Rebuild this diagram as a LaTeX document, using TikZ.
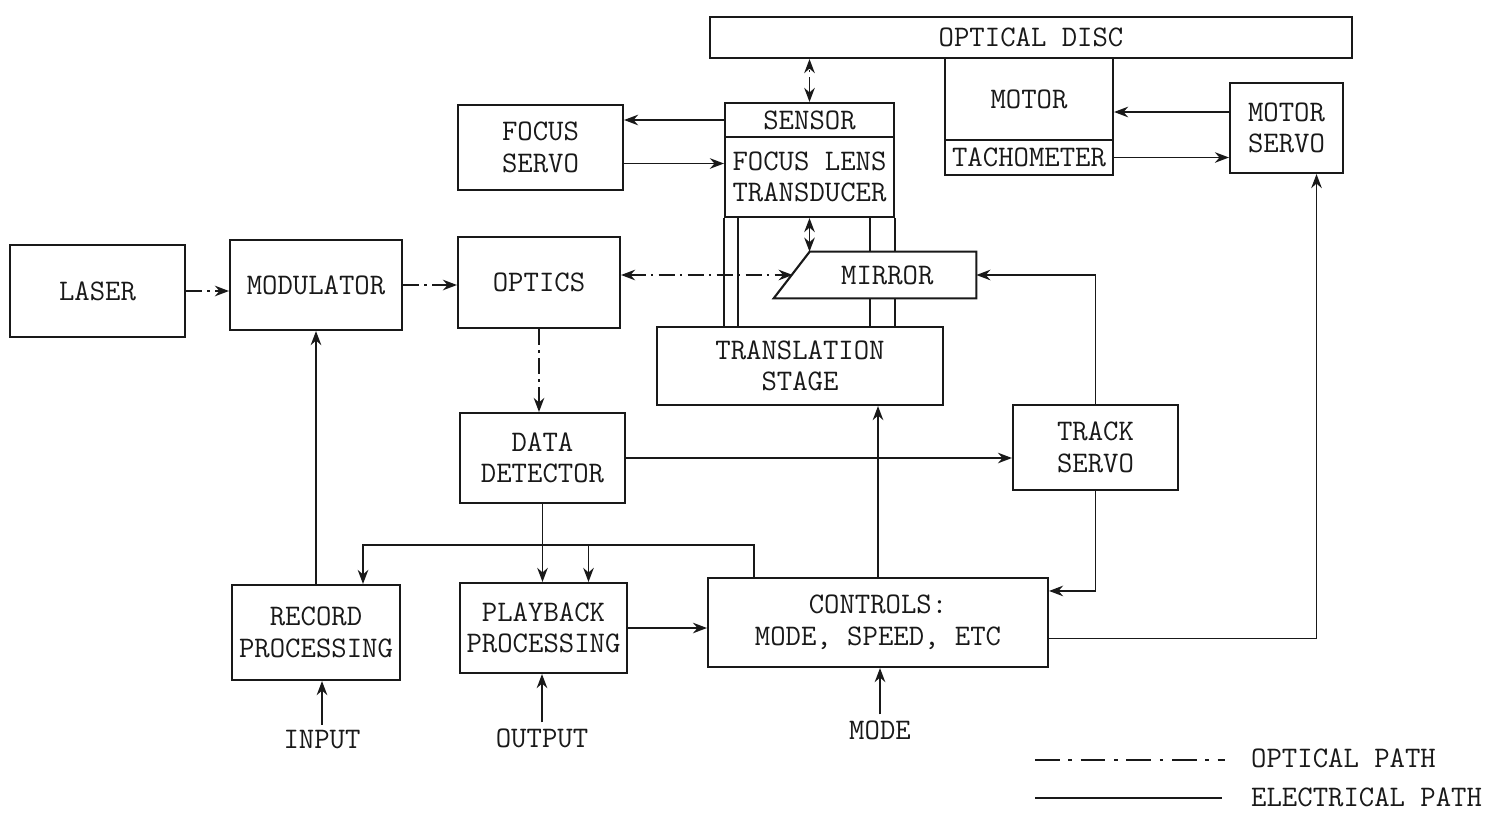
\documentclass[tikz,border=0pt]{standalone}
\usepackage{fontspec}
\usetikzlibrary{calc}
\usetikzlibrary{arrows.meta}
\definecolor{ink}{RGB}{25,25,25}

\begin{document}
\begin{tikzpicture}[x=0.02cm,y=-0.02cm,
    >={Stealth[length=8pt,width=6pt]},
    box/.style={draw=ink,line width=1.2pt,align=center,inner sep=1pt,text=ink,
        font=\ttfamily\fontsize{17}{18}\selectfont},
    lbl/.style={text=ink,font=\ttfamily\fontsize{17}{18}\selectfont},
    elec/.style={draw=ink,line width=1.1pt,->},
    optic/.style={elec,dash pattern=on 9pt off 3pt on 1.5pt off 3pt}]
    \fill[white] (0,0) rectangle (1493,815);
    % disc, motor and tachometer
    \node[box,minimum width=12.84cm,minimum height=0.82cm] (disc) at (1031,37.5) {OPTICAL DISC};
    \node[box,minimum width=3.36cm,minimum height=1.64cm] (motor) at (1029,99) {MOTOR};
    \node[box,minimum width=3.36cm,minimum height=0.7cm] (tacho) at (1029,157.5) {TACHOMETER};
    \node[box,minimum width=2.26cm,minimum height=1.8cm] (mservo) at (1286.5,128) {MOTOR\\SERVO};
    % focus servo and the lens head
    \node[box,minimum width=3.3cm,minimum height=1.7cm] (fservo) at (540.5,147.5) {FOCUS\\SERVO};
    \node[box,minimum width=3.38cm,minimum height=0.68cm] (sensor) at (809.5,120) {SENSOR};
    \node[box,minimum width=3.38cm,minimum height=1.6cm] (lens) at (809.5,177) {FOCUS LENS\\TRANSDUCER};
    % middle row
    \node[box,minimum width=3.5cm,minimum height=1.84cm] (laser) at (97.5,291) {LASER};
    \node[box,minimum width=3.44cm,minimum height=1.8cm] (modulator) at (316,285) {MODULATOR};
    \node[box,minimum width=3.24cm,minimum height=1.82cm] (optics) at (539,282.5) {OPTICS};
    \node[lbl,minimum width=4.04cm,minimum height=0.92cm,inner sep=0pt] (mirror) at (875,275) {\hspace{14pt}MIRROR};
    % the mirror is slanted on its left side
    \draw[ink,line width=1.2pt] ($(mirror.north west)+(36,0)$) -- (mirror.north east)
        -- (mirror.south east) -- (mirror.south west) -- cycle;
    \node[box,minimum width=5.72cm,minimum height=1.56cm] (stage) at (800,366) {TRANSLATION\\STAGE};
    % rails between head and stage
    \foreach \dx in {0,14}
        \draw[ink,line width=0.9pt] ($(lens.south west)+(\dx,0)$) -- ($(lens.south west |- stage.north)+(\dx,0)$);
    \foreach \dx in {0,-25} {
        \draw[ink,line width=0.9pt] ($(lens.south east)+(\dx,0)$) -- ($(lens.south east |- mirror.north)+(\dx,0)$);
        \draw[ink,line width=0.9pt] ($(lens.east |- mirror.south)+(\dx,0)$) -- ($(lens.east |- stage.north)+(\dx,0)$);
    }
    % lower rows
    \node[box,minimum width=3.3cm,minimum height=1.8cm] (detector) at (542.5,458) {DATA\\DETECTOR};
    \node[box,minimum width=3.3cm,minimum height=1.7cm] (tservo) at (1095.5,447.5) {TRACK\\SERVO};
    \node[box,minimum width=3.36cm,minimum height=1.9cm] (record) at (316,632.5) {RECORD\\PROCESSING};
    \node[box,minimum width=3.34cm,minimum height=1.8cm] (playback) at (543.5,628) {PLAYBACK\\PROCESSING};
    \node[box,minimum width=6.8cm,minimum height=1.78cm] (controls) at (878,622.5) {CONTROLS:\\MODE, SPEED, ETC};
    \node[lbl] (input) at (322,740) {INPUT};
    \node[lbl] (output) at (542,738) {OUTPUT};
    \node[lbl] (modein) at (880,730) {MODE};

    % optical paths
    \coordinate (mirin) at ($(mirror.west)+(19,0)$);
    \draw[optic] (laser.east) -- (laser.east -| modulator.west);
    \draw[optic] (modulator.east) -- (modulator.east -| optics.west);
    \draw[optic,<->] (optics.east |- mirin) -- (mirin);
    \draw[optic] (optics.south) -- (optics.south |- detector.north);
    \draw[optic,<->] (sensor.north) -- (sensor.north |- disc.south);
    \draw[optic,<->] (lens.south) -- (lens.south |- mirror.north);

    % electrical paths
    \coordinate (fs2) at ($(fservo.east)+(0,16)$);
    \coordinate (ms1) at ($(mservo.west)+(0,-16)$);
    \draw[elec] (sensor.west) -- (sensor.west -| fservo.east);
    \draw[elec] (fs2) -- (lens.west |- fs2);
    \draw[elec] (ms1) -- (motor.east |- ms1);
    \draw[elec] (tacho.east) -- (mservo.west |- tacho.east);
    \draw[elec] (record.north) -- (modulator.south);
    \draw[elec] (detector.south) -- (detector.south |- playback.north);
    \draw[elec] (detector.east) -- (tservo.west |- detector.east);
    \draw[elec] (tservo.north) |- (mirror.east);
    \coordinate (ct1) at ($(controls.north east)+(0,14)$);
    \draw[elec] (tservo.south) |- (ct1);
    \coordinate (cm1) at ($(controls.east)+(0,16)$);
    \coordinate (ms2) at ($(mservo.south)+(30,0)$);
    \draw[elec] (cm1) -| (ms2);
    \draw[elec] (controls.north) -- (controls.north |- stage.south);
    \draw[elec] (playback.east) -- (controls.west |- playback.east);
    % controls back to record and playback
    \coordinate (cr1) at ($(controls.north west)+(47,0)$);
    \coordinate (bus) at ($(cr1)+(0,-32)$);
    \coordinate (rec1) at ($(record.north)+(47,0)$);
    \coordinate (pb1) at ($(playback.north)+(45,0)$);
    \draw[elec] (cr1) |- (rec1 |- bus) -- (rec1);
    \draw[elec] (pb1 |- bus) -- (pb1);
    \draw[elec] (input.north) -- (input.north |- record.south);
    \draw[elec] (output.north) -- (output.north |- playback.south);
    \draw[elec] (modein.north) -- (modein.north |- controls.south);

    % legend
    \coordinate (optA) at (1035,760);
    \coordinate (optB) at (1225,760);
    \coordinate (elA) at (1035,798);
    \coordinate (elB) at (1222,798);
    \draw[ink,line width=1.1pt,dash pattern=on 14pt off 5pt on 2pt off 5pt] (optA) -- (optB);
    \draw[ink,line width=1.1pt] (elA) -- (elB);
    \node[lbl,anchor=west] (optlbl) at (1245,758) {OPTICAL PATH};
    \node[lbl,anchor=west] (ellbl) at (1245,797) {ELECTRICAL PATH};
\end{tikzpicture}
\end{document}
